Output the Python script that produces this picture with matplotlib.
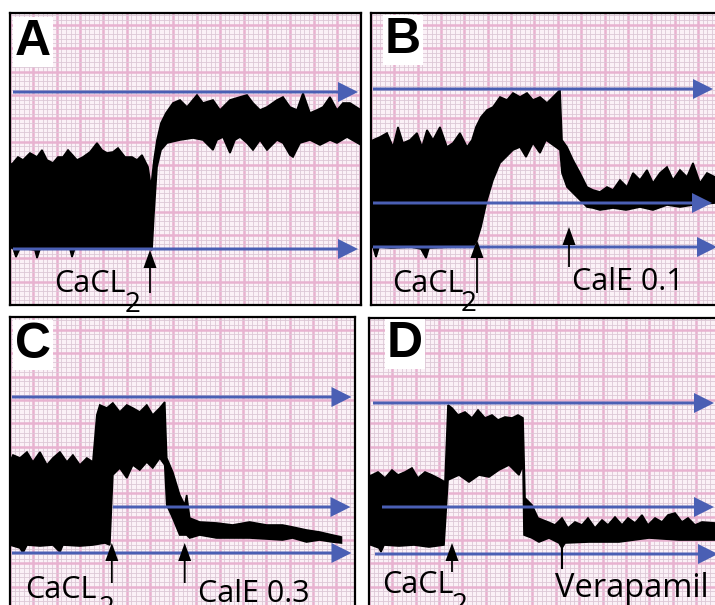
import numpy as np
import matplotlib.pyplot as plt

plt.rcParams['font.family'] = ['Open Sans', 'DejaVu Sans']

# trace envelopes: (position, height) in px of paper
a_top = [(0, 140), (3, 142), (8, 148), (13, 145), (20, 152), (27, 148), (32, 155), (37, 145),
         (43, 142), (48, 148), (53, 148), (58, 155), (67, 145), (73, 148), (80, 153), (87, 162),
         (92, 155), (97, 152), (103, 153), (108, 157), (115, 148), (122, 148), (127, 145),
         (132, 150), (138, 138), (141, 118), (144, 145), (147, 165), (151, 182), (156, 192),
         (163, 202), (170, 205), (177, 198), (187, 210), (193, 202), (203, 205), (210, 195),
         (220, 205), (230, 208), (237, 210), (243, 202), (250, 195), (257, 198), (267, 205),
         (273, 208), (280, 198), (287, 195), (293, 212), (300, 192), (307, 195), (313, 198),
         (320, 208), (327, 195), (333, 202), (340, 202), (351, 195)]
a_bot = [(0, 57), (3, 57), (6, 48), (10, 57), (25, 55), (27, 47), (30, 56), (50, 57), (60, 56),
         (62, 48), (65, 57), (90, 56), (110, 57), (130, 56), (139, 57), (142, 55), (144, 92),
         (147, 138), (151, 155), (157, 162), (170, 165), (183, 167), (193, 165), (203, 155),
         (207, 165), (213, 168), (220, 152), (225, 165), (230, 168), (237, 162), (243, 155),
         (250, 165), (257, 155), (267, 165), (273, 162), (280, 150), (283, 148), (290, 162),
         (300, 165), (310, 160), (320, 165), (327, 162), (337, 168), (351, 160)]

b_top = [(0, 162), (2, 165), (9, 168), (16, 172), (22, 158), (27, 178), (32, 162), (39, 165),
         (46, 172), (51, 158), (56, 175), (62, 165), (69, 178), (76, 158), (82, 162), (89, 172),
         (96, 158), (101, 165), (105, 178), (110, 188), (116, 195), (122, 198), (129, 208),
         (136, 205), (142, 212), (149, 208), (156, 212), (162, 205), (169, 208), (176, 202),
         (182, 208), (189, 215), (191, 165), (196, 158), (202, 145), (209, 132), (216, 118),
         (222, 115), (229, 113), (236, 118), (242, 115), (249, 125), (256, 118), (262, 132),
         (269, 125), (276, 135), (282, 122), (289, 132), (296, 138), (302, 125), (309, 135),
         (316, 128), (322, 142), (329, 122), (336, 132), (344, 128), (349, 130)]
b_bot = [(0, 58), (2, 58), (5, 48), (8, 58), (20, 57), (40, 58), (50, 56), (55, 47), (58, 57),
         (80, 58), (102, 58), (106, 65), (110, 78), (116, 105), (122, 125), (129, 142),
         (135, 148), (142, 155), (149, 158), (155, 148), (162, 162), (169, 152), (175, 165),
         (182, 160), (189, 155), (191, 132), (196, 118), (202, 112), (209, 105), (216, 98),
         (222, 97), (229, 95), (242, 97), (255, 95), (269, 98), (282, 95), (296, 100),
         (309, 98), (322, 100), (344, 102), (349, 102)]

c_top = [(0, 148), (3, 155), (10, 152), (17, 158), (23, 148), (30, 158), (37, 145), (43, 152),
         (50, 158), (57, 148), (63, 155), (70, 145), (77, 152), (83, 148), (87, 195), (90, 205),
         (97, 202), (103, 207), (110, 198), (117, 205), (123, 202), (130, 198), (137, 205),
         (143, 195), (150, 202), (155, 208), (157, 152), (163, 138), (170, 115), (175, 105),
         (177, 115), (180, 92), (190, 88), (207, 87), (223, 85), (240, 88), (257, 85),
         (273, 85), (283, 83), (297, 80), (310, 78), (323, 75), (332, 73)]
c_bot = [(0, 65), (10, 62), (13, 57), (17, 65), (30, 64), (43, 65), (50, 58), (53, 65),
         (70, 64), (83, 65), (95, 67), (100, 65), (103, 135), (110, 142), (117, 132),
         (123, 145), (130, 140), (137, 148), (143, 142), (150, 152), (155, 145), (157, 105),
         (163, 92), (170, 75), (177, 75), (180, 72), (190, 75), (207, 72), (223, 72),
         (240, 72), (257, 71), (273, 70), (283, 72), (297, 68), (310, 70), (323, 68), (332, 67)]

d_top = [(0, 134), (3, 135), (9, 138), (16, 132), (23, 140), (29, 135), (36, 138), (43, 142),
         (49, 132), (56, 138), (63, 135), (69, 132), (76, 128), (79, 205), (83, 202), (89, 195),
         (96, 198), (103, 192), (109, 200), (116, 192), (123, 195), (129, 190), (136, 193),
         (143, 192), (149, 195), (154, 192), (156, 112), (163, 105), (169, 92), (179, 88),
         (186, 85), (193, 92), (199, 82), (206, 88), (213, 85), (219, 92), (226, 82), (233, 90),
         (239, 85), (246, 93), (253, 85), (259, 92), (266, 87), (273, 95), (279, 85), (286, 92),
         (293, 88), (299, 95), (306, 97), (313, 88), (319, 92), (326, 85), (333, 88), (346, 87),
         (351, 88)]
d_bot = [(0, 65), (2, 65), (10, 62), (12, 58), (15, 65), (30, 64), (45, 65), (60, 63), (75, 65),
         (79, 130), (90, 135), (100, 128), (110, 135), (120, 133), (130, 140), (140, 145),
         (150, 135), (154, 145), (155, 75), (163, 72), (170, 68), (180, 72), (190, 67),
         (193, 62), (196, 67), (220, 68), (250, 68), (280, 72), (310, 70), (330, 70), (351, 70)]

# reference lines: (height, start, tip)
a_refs = [(213, 3, 348), (56, 3, 348)]
b_refs = [(216, 2, 342), (102, 2, 341), (58, 2, 346)]
c_refs = [(213, 2, 342), (103, 103, 341), (57, 2, 342)]
d_refs = [(207, 4, 345), (103, 13, 345), (56, 6, 349)]

# event markers: (position, tip, tail, arrowhead)
a_marks = [(140, 55, 12, True)]
b_marks = [(106, 65, 12, True), (198, 78, 38, True)]
c_marks = [(102, 67, 27, True), (175, 67, 27, True)]
d_marks = [(83, 67, 38, True), (193, 62, 42, False)]

# labels: (text, x, y, size)
a_labels = [('CaCL', 44, 13, 22), ('2', 115, -7, 20)]
b_labels = [('CaCL', 21, 13, 22), ('2', 90, -6, 20), ('CalE 0.1', 201, 15, 22)]
c_labels = [('CaCL', 15, 12, 22), ('2', 89, -6, 20), ('CalE 0.3', 188, 8, 22)]
d_labels = [('CaCL', 13, 17, 22), ('2', 83, -3, 20), ('Verapamil', 186, 13, 23.5)]

BLUE = '#4a5fb4'
fig = plt.figure(figsize=(7.15, 6.05), dpi=100)


def panel(box, letter, lx, ly, top, bot, refs, marks, labels):
    x0, y0, x1, y1 = box
    w, h = x1 - x0, y1 - y0
    ax = fig.add_axes([x0 / 715, 1 - y1 / 605, w / 715, h / 605])
    ax.set_xlim(0, w)
    ax.set_ylim(0, h)
    ax.set_facecolor('#fbf1f7')
    step = 23.35
    ax.set_xticks(np.arange(0, w + 1, step))
    ax.set_yticks(np.arange(0, h + 1, step))
    xm = np.arange(0, w + 1, step / 5)
    ym = np.arange(0, h + 1, step / 5)
    ax.set_xticks([v for i, v in enumerate(xm) if i % 5], minor=True)
    ax.set_yticks([v for i, v in enumerate(ym) if i % 5], minor=True)
    ax.tick_params(which='both', length=0, labelbottom=False, labelleft=False)
    ax.grid(which='minor', color='#dcc8d6', lw=0.6)
    ax.grid(which='major', color='#e8b2d0', lw=1.8)
    ax.set_axisbelow(True)
    for s in ax.spines.values():
        s.set_linewidth(1.6)
        s.set_color('black')

    xs = [p[0] for p in top] + [p[0] for p in bot][::-1]
    ys = [p[1] for p in top] + [p[1] for p in bot][::-1]
    ax.fill(xs, ys, color='black', lw=1.2, zorder=2)

    for y, xs0, tip in refs:
        ax.arrow(xs0, y, tip - xs0, 0, width=3, head_width=20, head_length=20,
                 length_includes_head=True, fc=BLUE, ec='none', zorder=3)

    for x, tip, tail, head in marks:
        if head:
            ax.arrow(x, tail, 0, tip - tail, width=1.8, head_width=13, head_length=18,
                     length_includes_head=True, fc='black', ec='none', zorder=4)
        else:
            ax.plot([x, x], [tail, tip], color='black', lw=1.5, zorder=4)

    for txt, x, y, size in labels:
        ax.text(x, y, txt, fontsize=size, va='baseline', ha='left', color='black',
                clip_on=False, zorder=5)

    ax.text(lx, ly, letter, fontsize=36, fontweight='bold', family='Liberation Sans',
            va='baseline', ha='left', zorder=6,
            bbox=dict(fc='white', ec='none', pad=1.5))


panel((10, 13, 361, 305), 'A', 5, 250, a_top, a_bot, a_refs, a_marks, a_labels)
panel((371, 13, 720, 305), 'B', 14, 252, b_top, b_bot, b_refs, b_marks, b_labels)
panel((10, 317, 355, 610), 'C', 5, 252, c_top, c_bot, c_refs, c_marks, c_labels)
panel((369, 318, 720, 610), 'D', 18, 253, d_top, d_bot, d_refs, d_marks, d_labels)

fig.savefig('out.png', dpi=100, facecolor='white')
